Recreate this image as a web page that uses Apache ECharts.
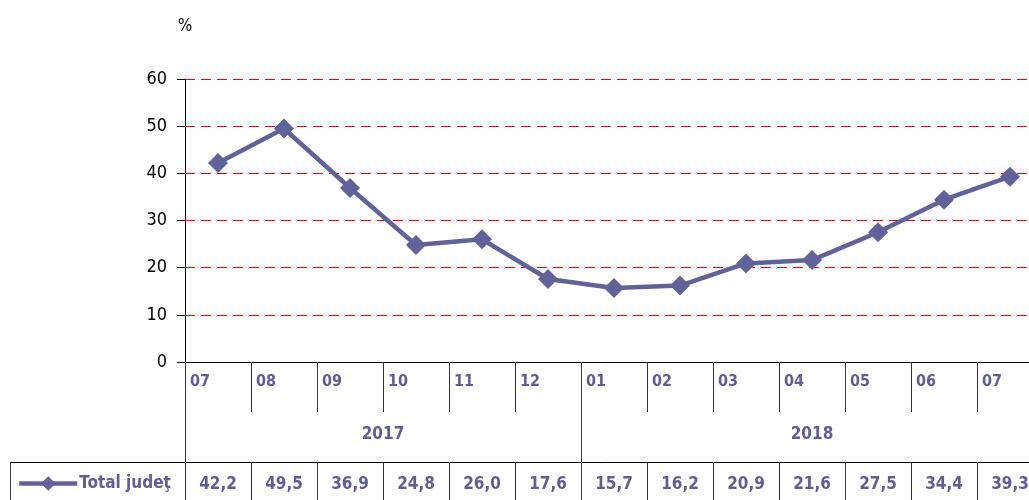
<!DOCTYPE html>
<html lang="ro">
<head>
	<meta charset="UTF-8">
	<title>Total judet</title>
	<script src="https://cdn.jsdelivr.net/npm/echarts@6/dist/echarts.min.js"></script>
	<style>
		html, body { margin: 0; padding: 0; background: #fff; }
		#main { width: 1029px; height: 500px; }
	</style>
</head>
<body>
	<div id="main"></div>
	<script>
		// date
		const months = ['07', '08', '09', '10', '11', '12', '01', '02', '03', '04', '05', '06', '07'];
		const values = [42.2, 49.5, 36.9, 24.8, 26.0, 17.6, 15.7, 16.2, 20.9, 21.6, 27.5, 34.4, 39.3];
		const years = ['2017', '2018'];
		const yearSpans = [6, 7];
		const yTicks = [0, 10, 20, 30, 40, 50, 60];
		const seriesName = 'Total judeţ';

		const blue = '#62629a';
		const txt = '#5f5f95';
		const narrow = '"Liberation Sans Narrow", "Arial Narrow", "DejaVu Sans Condensed", sans-serif';

		// pozitii pentru tabelul de sub axa
		const n = months.length;
		const bounds = [];
		for (let i = 0; i <= n; i++) bounds.push(i);
		const centers = months.map((m, i) => i + 0.5);
		const yearStarts = [];
		const yearMids = [];
		let acc = 0;
		yearSpans.forEach(s => { yearStarts.push(acc); yearMids.push(acc + s / 2); acc += s; });

		const chart = echarts.init(document.getElementById('main'));

		const option = {
			animation: false,
			grid: { left: 185, top: 79, width: 858, height: 283, containLabel: false, outerBoundsMode: 'none' },
			legend: {
				left: 12, top: 470,
				itemWidth: 58, itemHeight: 18,
				itemGap: 3,
				lineStyle: { width: 4.5 },
				textStyle: { color: txt, fontFamily: narrow, fontWeight: 'bold', fontSize: 17, padding: [0, 0, 0, -3] },
				data: [seriesName]
			},
			xAxis: [
				{ // axa seriei
					type: 'category', data: months, boundaryGap: true, position: 'bottom',
					axisLine: { lineStyle: { color: '#000', width: 1 } },
					axisTick: { show: false }, axisLabel: { show: false }, splitLine: { show: false }
				},
				{ // luni
					type: 'value', min: 0, max: n, position: 'bottom',
					axisLine: { show: false }, splitLine: { show: false },
					axisTick: { show: true, customValues: bounds, length: 50, lineStyle: { color: '#333' } },
					axisLabel: {
						customValues: bounds.slice(0, n), align: 'left', margin: 12,
						formatter: v => '{m|' + months[v] + '}',
						rich: { m: { padding: [0, 0, 0, 5], color: txt, fontFamily: narrow, fontWeight: 'bold', fontSize: 16 } }
					}
				},
				{ // ani
					type: 'value', min: 0, max: n, position: 'bottom',
					axisLine: { show: false }, splitLine: { show: false },
					axisTick: { show: true, customValues: yearStarts.concat([n]), length: 138, lineStyle: { color: '#333' } },
					axisLabel: {
						customValues: yearMids, margin: 64,
						formatter: v => years[yearMids.indexOf(v)],
						color: txt, fontFamily: narrow, fontWeight: 'bold', fontSize: 17
					}
				},
				{ // valori
					type: 'value', min: 0, max: n, offset: 100, position: 'bottom',
					axisLine: { show: true, lineStyle: { color: '#000', width: 1 } },
					splitLine: { show: false },
					axisTick: { show: true, customValues: bounds, length: 40, lineStyle: { color: '#333' } },
					axisLabel: {
						customValues: centers, margin: 14,
						formatter: v => values[centers.indexOf(v)].toFixed(1).replace('.', ','),
						color: txt, fontFamily: narrow, fontWeight: 'bold', fontSize: 17
					}
				}
			],
			yAxis: {
				type: 'value', min: 0, max: 60, interval: 10,
				name: '%', nameLocation: 'end', nameGap: 44,
				nameTextStyle: { color: '#000', fontFamily: narrow, fontSize: 17, align: 'center' },
				axisLine: { show: true, lineStyle: { color: '#000', width: 1 } },
				axisTick: { show: true, length: 8, lineStyle: { color: '#000' } },
				axisLabel: { color: '#000', fontFamily: narrow, fontSize: 18, margin: 18 },
				splitLine: { show: false }
			},
			series: [
				{ // liniile rosii de grila
					type: 'line',
					xAxisIndex: 0,
					data: [],
					silent: true,
					z: 1,
					markLine: {
						silent: true,
						symbol: 'none',
						label: { show: false },
						lineStyle: { color: '#ff0000', type: [10, 6], width: 1.2, opacity: 1 },
						emphasis: { disabled: true },
						data: yTicks.slice(1).map(v => ({ yAxis: v }))
					}
				},
				{
					name: seriesName,
					type: 'line',
					xAxisIndex: 0,
					data: values,
					symbol: 'diamond',
					symbolSize: 20,
					lineStyle: { color: blue, width: 4.5 },
					itemStyle: { color: blue },
					label: { show: false },
					z: 5
				}
			],
			graphic: [
				{ type: 'line', shape: { x1: 10, y1: 462.5, x2: 185, y2: 462.5 }, style: { stroke: '#000', lineWidth: 1 } },
				{ type: 'line', shape: { x1: 10.5, y1: 462, x2: 10.5, y2: 500 }, style: { stroke: '#333', lineWidth: 1 } }
			]
		};

		chart.setOption(option);
	</script>
</body>
</html>
